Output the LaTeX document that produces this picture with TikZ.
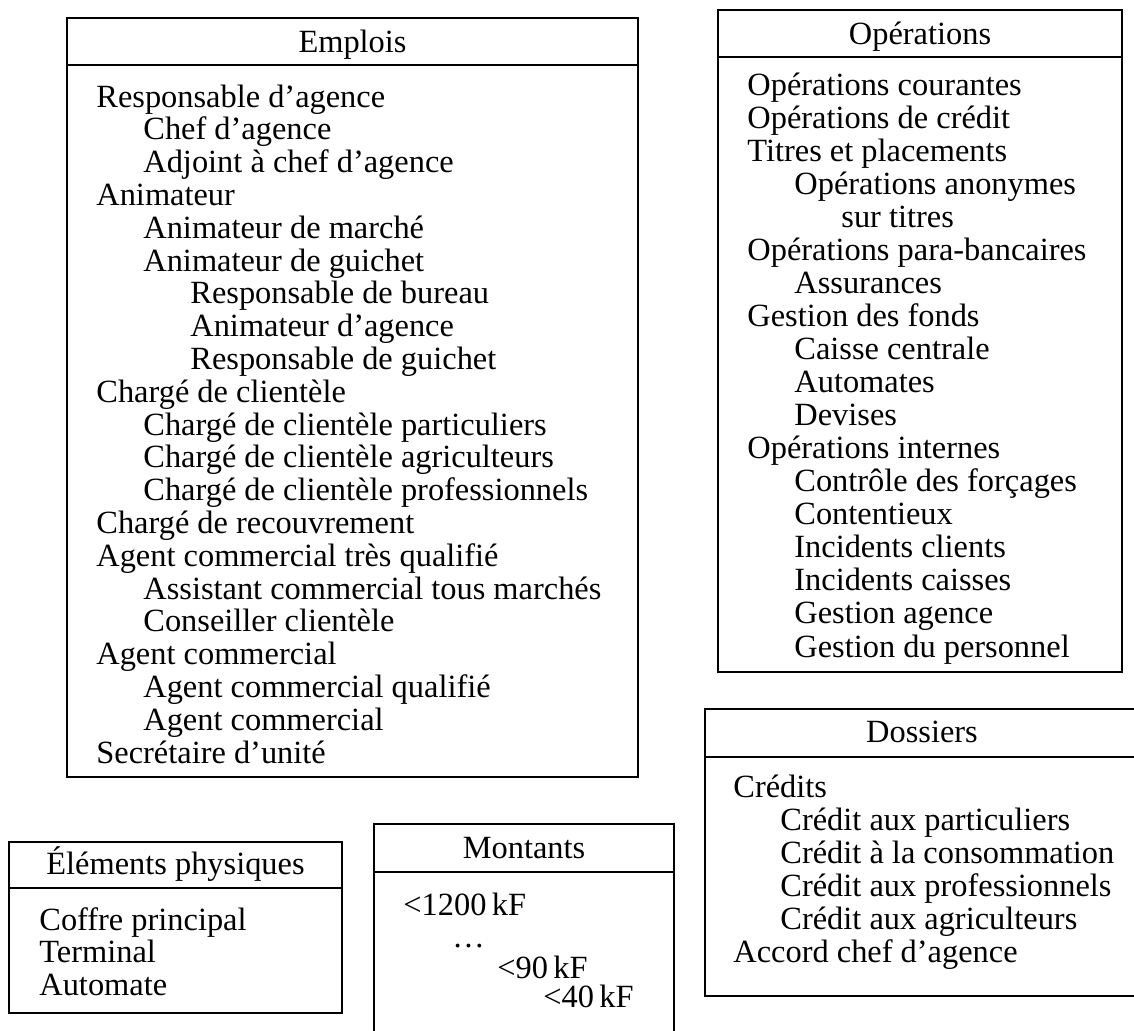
\documentclass[tikz,border=0pt]{standalone}
\usepackage{fontspec}
\setmainfont{Liberation Serif}
\begin{document}
\begin{tikzpicture}[x=0.5pt,y=-0.5pt,
  box/.style={draw=black,line width=1pt},
  title/.style={anchor=base,inner sep=0pt,font=\fontsize{16.2}{16.4}\selectfont},
  entry/.style={anchor=base west,inner sep=0pt,font=\fontsize{16.2}{16.4}\selectfont}]
\useasboundingbox (0,0) rectangle (1134,1030);
\fill[white] (0,0) rectangle (1134,1030);

% Emplois
\draw[box] (67,18) rectangle (638,777);
\draw[box] (67,65) -- (638,65);
\node[title] (emplois) at (352.5,52) {Emplois};
\foreach \lvl/\txt [count=\i] in {
  0/Responsable d’agence,
  1/Chef d’agence,
  1/Adjoint à chef d’agence,
  0/Animateur,
  1/Animateur de marché,
  1/Animateur de guichet,
  2/Responsable de bureau,
  2/Animateur d’agence,
  2/Responsable de guichet,
  0/Chargé de clientèle,
  1/Chargé de clientèle particuliers,
  1/Chargé de clientèle agriculteurs,
  1/Chargé de clientèle professionnels,
  0/Chargé de recouvrement,
  0/Agent commercial très qualifié,
  1/Assistant commercial tous marchés,
  1/Conseiller clientèle,
  0/Agent commercial,
  1/Agent commercial qualifié,
  1/Agent commercial,
  0/Secrétaire d’unité}
  \node[entry] (emp-\i) at ({96+47*\lvl},{107+32.8*(\i-1)}) {\txt};

% Opérations
\draw[box] (718,10) rectangle (1122,672);
\draw[box] (718,57) -- (1122,57);
\node[title] (operations) at (920,44) {Opérations};
\foreach \lvl/\txt [count=\i] in {
  0/Opérations courantes,
  0/Opérations de crédit,
  0/Titres et placements,
  1/Opérations anonymes,
  2/sur titres,
  0/Opérations para-bancaires,
  1/Assurances,
  0/Gestion des fonds,
  1/Caisse centrale,
  1/Automates,
  1/Devises,
  0/Opérations internes,
  1/Contrôle des forçages,
  1/Contentieux,
  1/Incidents clients,
  1/Incidents caisses,
  1/Gestion agence,
  1/Gestion du personnel}
  \node[entry] (ope-\i) at ({747+47*\lvl},{95+33.06*(\i-1)}) {\txt};

% Dossiers
\draw[box] (705,709) rectangle (1136,996);
\draw[box] (705,757) -- (1136,757);
\node[title] (dossiers) at (922,742) {Dossiers};
\foreach \lvl/\txt [count=\i] in {
  0/Crédits,
  1/Crédit aux particuliers,
  1/Crédit à la consommation,
  1/Crédit aux professionnels,
  1/Crédit aux agriculteurs,
  0/Accord chef d’agence}
  \node[entry] (dos-\i) at ({733+47*\lvl},{797+33*(\i-1)}) {\txt};

% Éléments physiques
\draw[box] (9,842) rectangle (342,1013);
\draw[box] (9,888) -- (342,888);
\node[title] (elements) at (175.5,874) {Éléments physiques};
\foreach \txt [count=\i] in {Coffre principal, Terminal, Automate}
  \node[entry] (ele-\i) at (39,{930+32.5*(\i-1)}) {\txt};

% Montants
\draw[box] (374,1040) -- (374,824) -- (674,824) -- (674,1040);
\draw[box] (374,872) -- (674,872);
\node[title] (montants) at (524,858) {Montants};
\node[entry] (mon-1) at (403,915) {<1200\,kF};
\node[entry] (mon-2) at (452,947) {…};
\node[entry] (mon-3) at (497,978) {<90\,kF};
\node[entry] (mon-4) at (543,1007) {<40\,kF};
\end{tikzpicture}
\end{document}
